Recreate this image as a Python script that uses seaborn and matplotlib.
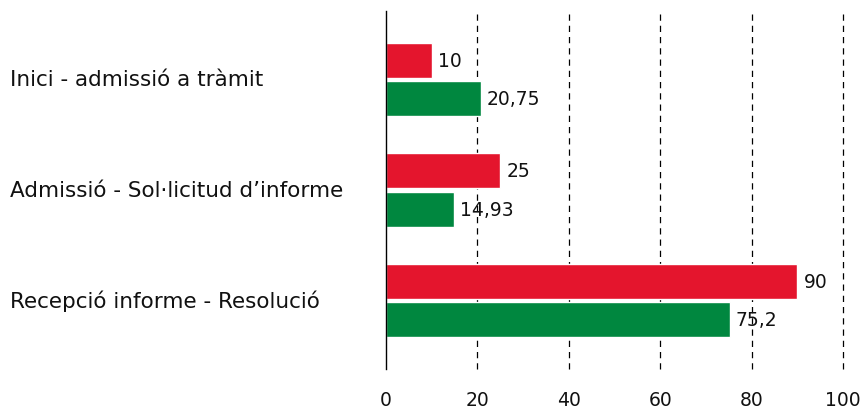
import numpy as np
import pandas as pd
import matplotlib
matplotlib.use('Agg')
import matplotlib.pyplot as plt
import matplotlib.transforms as mtransforms
import seaborn as sns

# Data
categories = ['Inici - admissió a tràmit',
              'Admissió - Sol·licitud d\u2019informe',
              'Recepció informe - Resolució']
series_names = ['Sèrie 1', 'Sèrie 2']
values_red = [10, 25, 90]
values_green = [20.75, 14.93, 75.2]
labels_red = ['10', '25', '90']
labels_green = ['20,75', '14,93', '75,2']
x_ticks = [0, 20, 40, 60, 80, 100]

df = pd.DataFrame({
    'Tram': categories * 2,
    'Serie': [series_names[0]] * 3 + [series_names[1]] * 3,
    'Valor': values_red + values_green,
})

sns.set_style('white')
plt.rcParams['font.family'] = ['DejaVu Sans']

fig = plt.figure(figsize=(8.63, 4.10), dpi=100)
ax = fig.add_axes([0.4473, 0.0976, 0.5295, 0.8732])

sns.barplot(data=df, y='Tram', x='Valor', hue='Serie', orient='h',
            palette=['#E4152D', '#00873F'], width=0.70, gap=0.10,
            legend=False, ax=ax, saturation=1)

# value labels
for cont, labs in zip(ax.containers, [labels_red, labels_green]):
    ax.bar_label(cont, labels=labs, padding=4.5, fontsize=13.5, color='#111111')

ax.set_xlim(0, 100)
ax.set_ylim(2.62, -0.62)
ax.set_xticks(x_ticks)
ax.tick_params(axis='x', length=0, pad=15, labelsize=13.5, colors='#111111')
ax.set_yticks([])
ax.set_xlabel('')
ax.set_ylabel('')

for x in x_ticks[1:]:
    ax.axvline(x, color='black', linewidth=0.9, linestyle=(0, (5, 4)),
               zorder=0, clip_on=False)

for s in ['top', 'right', 'bottom']:
    ax.spines[s].set_visible(False)
ax.spines['left'].set_color('black')
ax.spines['left'].set_linewidth(1.0)

# category labels, left aligned at the figure edge
trans = mtransforms.blended_transform_factory(fig.transFigure, ax.transData)
for i, cat in enumerate(categories):
    ax.text(10 / 863, i, cat, transform=trans, ha='left', va='center',
            fontsize=15.5, color='#111111')

fig.savefig('out.png', dpi=100)
